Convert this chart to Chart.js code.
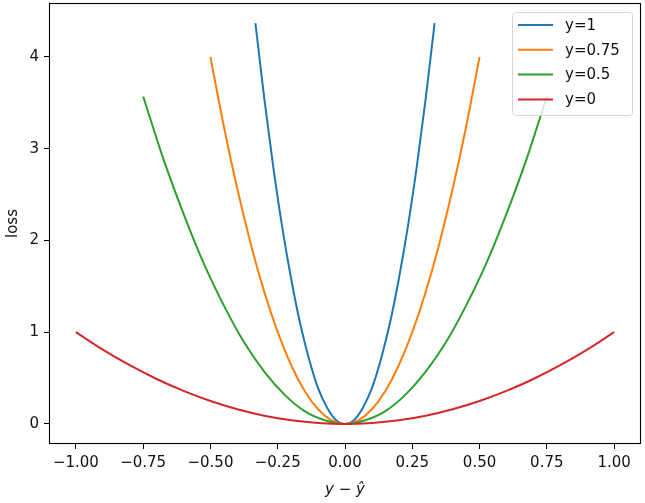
<!DOCTYPE html>
<html>
<head>
<meta charset="utf-8">
<script src="https://cdn.jsdelivr.net/npm/chart.js@4.4.1/dist/chart.umd.min.js"></script>
<style>
  html, body { margin: 0; padding: 0; background: #fff; }
  canvas { display: block; }
</style>
</head>
<body>
<canvas id="lossChart" width="645" height="503"></canvas>
<script>
// values
const xBlue = [-0.333, -0.3, -0.267, -0.233, -0.2, -0.167, -0.133, -0.1, -0.067, -0.033, 0, 0.033, 0.067, 0.1, 0.133, 0.167, 0.2, 0.233, 0.267, 0.3, 0.333];
const lossBlue = [4.37, 3.55, 2.81, 2.14, 1.58, 1.10, 0.70, 0.39, 0.18, 0.04, 0, 0.04, 0.18, 0.39, 0.70, 1.10, 1.58, 2.14, 2.81, 3.55, 4.37];

const xOrange = [-0.5, -0.45, -0.4, -0.35, -0.3, -0.25, -0.2, -0.15, -0.1, -0.05, 0, 0.05, 0.1, 0.15, 0.2, 0.25, 0.3, 0.35, 0.4, 0.45, 0.5];
const lossOrange = [4.00, 3.24, 2.56, 1.96, 1.44, 1.00, 0.64, 0.36, 0.16, 0.04, 0, 0.04, 0.16, 0.36, 0.64, 1.00, 1.44, 1.96, 2.56, 3.24, 4.00];

const xGreen = [-0.75, -0.675, -0.6, -0.525, -0.45, -0.375, -0.3, -0.225, -0.15, -0.075, 0, 0.075, 0.15, 0.225, 0.3, 0.375, 0.45, 0.525, 0.6, 0.675, 0.75];
const lossGreen = [3.57, 2.89, 2.29, 1.75, 1.29, 0.89, 0.57, 0.32, 0.14, 0.04, 0, 0.04, 0.14, 0.32, 0.57, 0.89, 1.29, 1.75, 2.29, 2.89, 3.57];

const xRed = [-1.0, -0.9, -0.8, -0.7, -0.6, -0.5, -0.4, -0.3, -0.2, -0.1, 0, 0.1, 0.2, 0.3, 0.4, 0.5, 0.6, 0.7, 0.8, 0.9, 1.0];
const lossRed = [1.00, 0.81, 0.64, 0.49, 0.36, 0.25, 0.16, 0.09, 0.04, 0.01, 0, 0.01, 0.04, 0.09, 0.16, 0.25, 0.36, 0.49, 0.64, 0.81, 1.00];

const seriesLabels = ['y=1', 'y=0.75', 'y=0.5', 'y=0'];
const xTicks = [-1, -0.75, -0.5, -0.25, 0, 0.25, 0.5, 0.75, 1];
const yTicks = [0, 1, 2, 3, 4];

const colors = ['#1f77b4', '#ff7f0e', '#2ca02c', '#d62728'];
const FONT = 'DejaVu Sans';

function pts(xs, ys) {
    return xs.map((x, i) => ({ x: x, y: ys[i] }));
}

function mathMinus(s) {
    return s.replace('-', '\u2212');
}

// box around the plot + legend inside upper right
const framePlugin = {
    id: 'frame',
    afterDatasetsDraw(chart) {
        const ctx = chart.ctx;
        const a = chart.chartArea;
        ctx.save();

        // legend
        const lx = 512.5, ly = 12.5, lw = 120, lh = 103, r = 3;
        ctx.beginPath();
        ctx.moveTo(lx + r, ly);
        ctx.arcTo(lx + lw, ly, lx + lw, ly + lh, r);
        ctx.arcTo(lx + lw, ly + lh, lx, ly + lh, r);
        ctx.arcTo(lx, ly + lh, lx, ly, r);
        ctx.arcTo(lx, ly, lx + lw, ly, r);
        ctx.closePath();
        ctx.fillStyle = 'rgba(255,255,255,0.8)';
        ctx.fill();
        ctx.strokeStyle = '#d6d6d6';
        ctx.lineWidth = 1;
        ctx.stroke();

        ctx.font = '15px "' + FONT + '"';
        ctx.textBaseline = 'middle';
        ctx.textAlign = 'left';
        chart.data.datasets.forEach((ds, i) => {
            const y = 25 + i * 24.8;
            ctx.strokeStyle = ds.borderColor;
            ctx.lineWidth = 2;
            ctx.beginPath();
            ctx.moveTo(518, y);
            ctx.lineTo(553, y);
            ctx.stroke();
            ctx.fillStyle = '#111';
            ctx.fillText(ds.label, 565, y + 1);
        });

        // spines
        ctx.strokeStyle = '#000';
        ctx.lineWidth = 1.1;
        ctx.strokeRect(Math.round(a.left) + 0.5, Math.round(a.top) + 0.5,
            Math.round(a.right - a.left) - 1, Math.round(a.bottom - a.top) - 1);
        ctx.restore();
    }
};

const ctx = document.getElementById('lossChart');

new Chart(ctx, {
    type: 'line',
    data: {
        datasets: [
            { label: seriesLabels[0], data: pts(xBlue, lossBlue), borderColor: colors[0], order: 3 },
            { label: seriesLabels[1], data: pts(xOrange, lossOrange), borderColor: colors[1], order: 2 },
            { label: seriesLabels[2], data: pts(xGreen, lossGreen), borderColor: colors[2], order: 1 },
            { label: seriesLabels[3], data: pts(xRed, lossRed), borderColor: colors[3], order: 0 }
        ]
    },
    options: {
        responsive: false,
        animation: false,
        events: [],
        layout: { padding: { top: 3, right: 4, left: 0, bottom: 0 } },
        elements: {
            point: { radius: 0 },
            line: { borderWidth: 2, fill: false, cubicInterpolationMode: 'monotone' }
        },
        plugins: {
            legend: { display: false },
            tooltip: { enabled: false }
        },
        scales: {
            x: {
                type: 'linear',
                min: -1.1,
                max: 1.1,
                afterBuildTicks: (s) => { s.ticks = xTicks.map(v => ({ value: v })); },
                afterFit: (s) => { s.height = 59; s.paddingLeft = 0; s.paddingRight = 0; },
                border: { display: false },
                grid: { drawOnChartArea: false, drawTicks: true, tickLength: 5, tickColor: '#000', tickWidth: 1 },
                ticks: {
                    color: '#111',
                    padding: 5,
                    maxRotation: 0,
                    font: { family: FONT, size: 15 },
                    callback: (v) => mathMinus(v.toFixed(2))
                },
                title: {
                    display: true,
                    text: 'y \u2212 \u0177',
                    color: '#111',
                    padding: { top: 0, bottom: 4 },
                    font: { family: FONT, size: 15, style: 'italic' }
                }
            },
            y: {
                type: 'linear',
                min: -0.2185,
                max: 4.5885,
                afterBuildTicks: (s) => { s.ticks = yTicks.map(v => ({ value: v })); },
                afterFit: (s) => { s.width = 49; s.paddingTop = 0; s.paddingBottom = 0; },
                border: { display: false },
                grid: { drawOnChartArea: false, drawTicks: true, tickLength: 5, tickColor: '#000', tickWidth: 1 },
                ticks: {
                    color: '#111',
                    padding: 5,
                    font: { family: FONT, size: 15 },
                    callback: (v) => String(v)
                },
                title: {
                    display: true,
                    text: 'loss',
                    color: '#111',
                    padding: { top: 4, bottom: 0 },
                    font: { family: FONT, size: 15 }
                }
            }
        }
    },
    plugins: [framePlugin]
});
</script>
</body>
</html>
